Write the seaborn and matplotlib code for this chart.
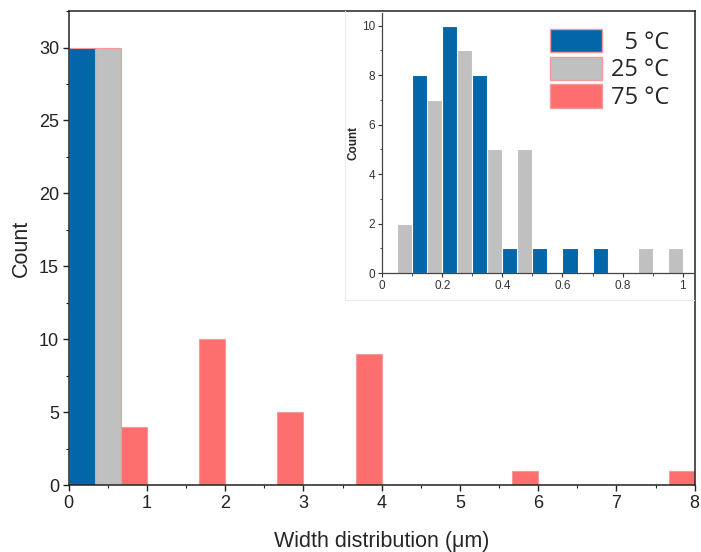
import pandas as pd
import seaborn as sns
import matplotlib.pyplot as plt
from matplotlib.lines import Line2D
from matplotlib.patches import Patch
from matplotlib.ticker import MultipleLocator

temps = ["5 °C", "25 °C", "75 °C"]
legend_labels = ["\u20075 °C", "25 °C", "75 °C"]
colors = ["#0266a9", "#c0c0c0", "#fd6f6f"]

# main histogram, 1 µm bins
main_edges = [0, 1, 2, 3, 4, 5, 6, 7, 8]
main_5c = [30, 0, 0, 0, 0, 0, 0, 0]
main_25c = [30, 0, 0, 0, 0, 0, 0, 0]
main_75c = [4, 10, 5, 9, 0, 1, 0, 1]

# inset, 0.1 µm bins
inset_edges = [0, 0.1, 0.2, 0.3, 0.4, 0.5, 0.6, 0.7, 0.8, 0.9, 1.0]
inset_5c = [0, 8, 10, 8, 1, 1, 1, 1, 0, 0]
inset_25c = [2, 7, 9, 5, 5, 0, 0, 0, 1, 1]


def to_frame(edges, series):
    centres = [(a + b) / 2 for a, b in zip(edges[:-1], edges[1:])]
    rows = []
    for temp, counts in series.items():
        for c, n in zip(centres, counts):
            rows.append({"width": c, "count": n, "temp": temp})
    return pd.DataFrame(rows)


def main():
    sns.set_style("white")
    plt.rcParams["font.family"] = ["Liberation Sans", "DejaVu Sans"]

    df_main = to_frame(main_edges, dict(zip(temps, [main_5c, main_25c, main_75c])))
    df_inset = to_frame(inset_edges, dict(zip(temps[:2], [inset_5c, inset_25c])))

    fig = plt.figure(figsize=(7.01, 5.52), dpi=100)
    ax = fig.add_axes([0.098, 0.121, 0.893, 0.859])

    sns.histplot(data=df_main, x="width", weights="count", hue="temp",
                 hue_order=temps, palette=colors, bins=main_edges,
                 multiple="dodge", shrink=1, alpha=1, edgecolor="#f49a9a",
                 linewidth=0.8, legend=False, ax=ax)
    ax.set_xlim(0, 8)
    ax.set_ylim(0, 32.5)
    ax.xaxis.set_major_locator(MultipleLocator(1))
    ax.xaxis.set_minor_locator(MultipleLocator(0.5))
    ax.yaxis.set_major_locator(MultipleLocator(5))
    ax.yaxis.set_minor_locator(MultipleLocator(2.5))
    ax.tick_params(which="both", direction="out", bottom=True, left=True,
                   top=False, right=False, colors="#222222", labelsize=13)
    ax.tick_params(which="major", length=4, width=1, pad=3)
    ax.tick_params(which="minor", length=2.5, width=0.8)
    for s in ax.spines.values():
        s.set_color("#222222")
        s.set_linewidth(1.1)
    ax.set_xlabel("Width distribution (μm)", fontsize=15.5, labelpad=14)
    ax.set_ylabel("Count", fontsize=15.5, labelpad=5)

    # faint frame round the inset
    fig.add_artist(Line2D([0.492, 0.492], [0.457, 0.98], color="#ebebeb",
                          lw=0.8, transform=fig.transFigure))
    fig.add_artist(Line2D([0.492, 0.99], [0.457, 0.457], color="#ebebeb",
                          lw=0.8, transform=fig.transFigure))

    axin = fig.add_axes([0.545, 0.505, 0.444, 0.471])
    axin.set_zorder(3)
    sns.histplot(data=df_inset, x="width", weights="count", hue="temp",
                 hue_order=temps[:2], palette=colors[:2], bins=inset_edges,
                 multiple="dodge", shrink=1, alpha=1, edgecolor="white",
                 linewidth=0.8, legend=False, ax=axin)
    axin.set_xlim(0, 1.035)
    axin.set_ylim(0, 10.5)
    axin.xaxis.set_major_locator(MultipleLocator(0.2))
    axin.xaxis.set_minor_locator(MultipleLocator(0.1))
    axin.yaxis.set_major_locator(MultipleLocator(2))
    axin.yaxis.set_minor_locator(MultipleLocator(1))
    axin.xaxis.set_major_formatter(lambda v, p: f"{v:g}")
    axin.tick_params(which="both", direction="out", bottom=True, left=True,
                     colors="#333333", labelsize=8.5)
    axin.tick_params(which="major", length=3, width=0.8, pad=2)
    axin.tick_params(which="minor", length=1.8, width=0.6)
    axin.spines["top"].set_visible(False)
    axin.spines["right"].set_visible(False)
    for side in ["left", "bottom"]:
        axin.spines[side].set_color("#444444")
        axin.spines[side].set_linewidth(0.9)
    axin.set_xlabel("")
    axin.set_ylabel("Count", fontsize=8.5, fontweight="bold", labelpad=2)

    handles = [Patch(facecolor=c, edgecolor="#f49a9a", linewidth=1) for c in colors]
    fig.legend(handles, legend_labels, loc="upper left",
               bbox_to_anchor=(550 / 701, 1 - 29 / 552), frameon=False,
               borderpad=0, borderaxespad=0, handlelength=2.2,
               handleheight=1.15, handletextpad=0.4, labelspacing=0.08,
               prop={"family": ["Open Sans", "DejaVu Sans"], "size": 17})

    fig.savefig("out.png", dpi=100)
    plt.close(fig)


if __name__ == "__main__":
    main()
